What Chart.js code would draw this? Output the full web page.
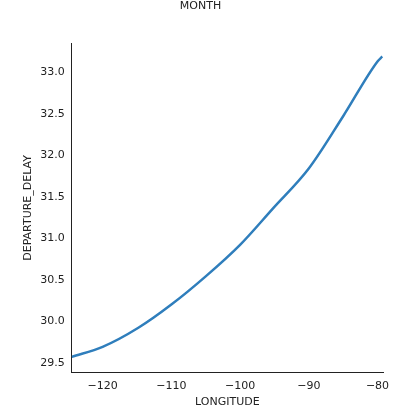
<!DOCTYPE html>
<html>
<head>
  <script src="https://cdn.jsdelivr.net/npm/chart.js@4.4.0/dist/chart.umd.min.js"></script>
  <style>body{margin:0;background:#fff}</style>
</head>
<body>
<div style="width:415px;height:417px"><canvas id="myChart"></canvas></div>
<script>
const longitude = [-124.5, -120, -114.8, -110, -105, -100, -95.2, -90, -85, -80, -79.3];
const delay = [29.57, 29.69, 29.92, 30.20, 30.54, 30.92, 31.36, 31.84, 32.47, 33.13, 33.19];
const xTicks = [-120, -110, -100, -90, -80];
const yTicks = [29.5, 30.0, 30.5, 31.0, 31.5, 32.0, 32.5, 33.0];

Chart.defaults.font.family = 'DejaVu Sans';
Chart.defaults.font.size = 11;
Chart.defaults.color = '#222';

const ctx = document.getElementById('myChart').getContext('2d');
new Chart(ctx, {
  type: 'scatter',
  data: {
    datasets: [{
      data: longitude.map((x, i) => ({x: x, y: delay[i]})),
      showLine: true,
      borderColor: '#2f7ebc',
      borderWidth: 2.5,
      pointRadius: 0,
      cubicInterpolationMode: 'monotone'
    }]
  },
  options: {
    responsive: true,
    maintainAspectRatio: false,
    animation: false,
    layout: {padding: {top: 0, right: 32, bottom: 4, left: 18}},
    plugins: {
      legend: {display: false},
      tooltip: {enabled: false},
      title: {display: true, text: 'MONTH', font: {size: 11, weight: 'normal'}, padding: {top: 0, bottom: 30}, color: '#222'}
    },
    scales: {
      x: {
        type: 'linear', min: -124.5, max: -79.2,
        afterBuildTicks: s => { s.ticks = xTicks.map(v => ({value: v})); },
        ticks: {callback: v => String(v).replace('-', '\u2212'), maxRotation: 0},
        grid: {display: false, drawTicks: true, tickLength: 4, tickColor: '#222'},
        border: {color: '#222'},
        title: {display: true, text: 'LONGITUDE', padding: {top: 0}}
      },
      y: {
        min: 29.38, max: 33.35,
        afterBuildTicks: s => { s.ticks = yTicks.map(v => ({value: v})); },
        ticks: {callback: v => v.toFixed(1)},
        grid: {display: false, tickLength: 4, tickColor: '#222'},
        border: {color: '#222'},
        title: {display: true, text: 'DEPARTURE_DELAY', padding: {bottom: 2}}
      }
    }
  }
});
</script>
</body>
</html>
